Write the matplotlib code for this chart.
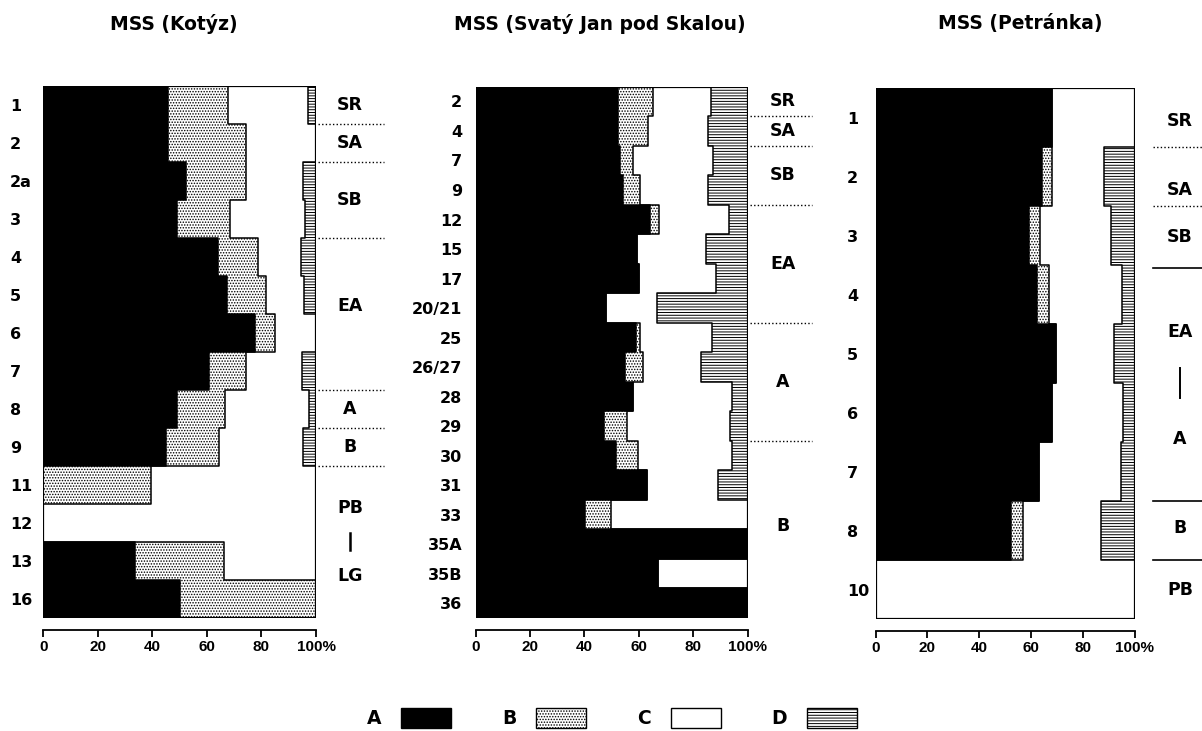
#!/usr/bin/env python3
"""Stacked percentage profiles for three MSS sections (A/B/C/D)."""

import matplotlib

matplotlib.use("Agg")
import matplotlib.pyplot as plt
import numpy as np
from matplotlib.patches import Patch, Rectangle

plt.rcParams["font.family"] = ["DejaVu Sans"]
plt.rcParams["font.weight"] = "bold"
plt.rcParams["hatch.linewidth"] = 0.7

# --- MSS (Kotýz) ---
KOTYZ_ROWS = ["1", "2", "2a", "3", "4", "5", "6", "7", "8", "9", "11", "12", "13", "16"]
KOTYZ_A = [45.6, 45.6, 52.2, 48.9, 64.1, 67.2, 77.6, 60.8, 48.9, 45.0, 0, 0, 33.6, 50.2]
KOTYZ_B = [22.2, 28.9, 22.3, 19.5, 14.7, 14.6, 7.5, 13.4, 17.7, 19.5, 39.5, 0, 32.7, 49.8]
KOTYZ_C = [29.2, 25.5, 20.7, 27.5, 15.6, 13.7, 14.9, 20.8, 30.8, 30.7, 60.5, 100, 33.7, 0]
KOTYZ_D = [3.0, 0, 4.8, 4.1, 5.6, 4.5, 0, 5.0, 2.6, 4.8, 0, 0, 0, 0]
KOTYZ_ZONES = [("SR", 0.5), ("SA", 1.5), ("SB", 3.0), ("EA", 5.8), ("A", 8.5),
               ("B", 9.5), ("PB", 11.1), ("LG", 12.9)]
KOTYZ_DIVIDERS = [1, 2, 4, 8, 9, 10]

# --- MSS (Svatý Jan pod Skalou) ---
JAN_ROWS = ["2", "4", "7", "9", "12", "15", "17", "20/21", "25", "26/27", "28",
            "29", "30", "31", "33", "35A", "35B", "36"]
JAN_A = [52.5, 52.5, 53.1, 54.1, 64.2, 59.5, 60.2, 47.9, 59.0, 55.0, 57.8,
         47.2, 51.7, 63.2, 40.3, 100, 67.0, 100]
JAN_B = [12.9, 10.8, 4.9, 6.4, 3.4, 0, 0, 0, 1.5, 6.5, 0,
         8.6, 8.2, 0, 9.5, 0, 0, 0]
JAN_C = [21.2, 22.3, 29.2, 25.1, 25.7, 25.2, 28.1, 18.7, 26.3, 21.4, 36.6,
         37.8, 34.3, 25.8, 50.2, 0, 33.0, 0]
JAN_D = [13.4, 14.4, 12.8, 14.4, 6.7, 15.3, 11.7, 33.4, 13.2, 17.1, 5.6,
         6.4, 5.8, 11.0, 0, 0, 0, 0]
JAN_ZONES = [("SR", 0.5), ("SA", 1.5), ("SB", 3.0), ("EA", 6.0), ("A", 10.0),
             ("B", 14.9)]
JAN_DIVIDERS = [1, 2, 4, 8, 12]

# --- MSS (Petránka) ---
PET_ROWS = ["1", "2", "3", "4", "5", "6", "7", "8", "10"]
PET_A = [68.3, 64.2, 59.3, 62.5, 69.8, 68.1, 63.3, 52.4, 0]
PET_B = [0, 3.9, 4.3, 4.3, 0, 0, 0, 4.4, 0]
PET_C = [31.7, 20.0, 27.3, 28.4, 22.4, 27.4, 31.5, 30.2, 100]
PET_D = [0, 11.9, 9.1, 4.8, 7.8, 4.5, 5.2, 13.0, 0]
PET_ZONES = [("SR", 0.55), ("SA", 1.72), ("SB", 2.52), ("EA", 4.13), ("A", 5.94),
             ("B", 7.46), ("PB", 8.5)]
PET_DIVIDERS = [1, 2]
PET_SOLID = [3.05, 7, 8]

STYLES = [("black", None), ("white", "......"), ("white", None), ("white", "------")]
DOTTED = (0, (1, 1.6))


def draw_panel(ax, rows, parts):
    n = len(rows)
    y = np.arange(n)
    left = np.zeros(n)
    for vals, (face, hatch) in zip(parts, STYLES):
        vals = np.asarray(vals, dtype=float)
        ax.barh(y + 0.5, vals, left=left, height=1.0, color=face,
                edgecolor="black", linewidth=0, hatch=hatch)
        left = left + vals
    # stepped outlines between categories
    for bound in np.cumsum(parts[:3], axis=0):
        xs = np.repeat(bound, 2)
        ys = np.column_stack([y, y + 1]).ravel()
        ax.plot(xs, ys, color="black", lw=1.1)
    ax.add_patch(Rectangle((0, 0), 100, n, fill=False, lw=1.6,
                           edgecolor="black", zorder=5))
    ax.set_xlim(0, 100)
    ax.set_ylim(n, 0)
    for side in ("top", "left", "right"):
        ax.spines[side].set_visible(False)
    ax.spines["bottom"].set_position(("outward", 8.6))
    ax.spines["bottom"].set_bounds(0, 100)
    ax.spines["bottom"].set_linewidth(1.3)
    ax.set_xticks([0, 20, 40, 60, 80, 100],
                  ["0", "20", "40", "60", "80", "100%"])
    ax.tick_params(axis="x", direction="out", length=5, width=1.3, pad=2)
    for lbl in ax.get_xticklabels():
        lbl.set_fontfamily("Liberation Sans")
        lbl.set_fontsize(11)
    ax.set_yticks(y + 0.5, rows)
    ax.tick_params(axis="y", length=0, labelsize=11.5)


def draw_zones(ax, zones, dividers, x_text, x0, x1, solid=()):
    for label, ypos in zones:
        ax.text(x_text, ypos, label, ha="center", va="center", fontsize=12.5,
                fontweight="bold", clip_on=False)
    for ypos in dividers:
        ax.plot([x0, x1], [ypos, ypos], color="black", lw=1.0, ls=DOTTED,
                clip_on=False)
    for ypos in solid:
        ax.plot([x0, x1], [ypos, ypos], color="black", lw=1.2, clip_on=False)


fig = plt.figure(figsize=(12.02, 7.31), dpi=100)
W, H = 1202, 731


def add_axes(x0, x1, y0, y1):
    return fig.add_axes([x0 / W, 1 - y1 / H, (x1 - x0) / W, (y1 - y0) / H])


ax1 = add_axes(43.3, 316, 86, 618)
ax2 = add_axes(475.5, 747.5, 86.7, 618)
ax3 = add_axes(875.5, 1134.5, 88.3, 619.3)

draw_panel(ax1, KOTYZ_ROWS, [KOTYZ_A, KOTYZ_B, KOTYZ_C, KOTYZ_D])
draw_panel(ax2, JAN_ROWS, [JAN_A, JAN_B, JAN_C, JAN_D])
draw_panel(ax3, PET_ROWS, [PET_A, PET_B, PET_C, PET_D])

# row labels: left aligned in panels 1 and 3, right aligned in panel 2
for ax, pad in ((ax1, 24), (ax3, 20.5)):
    ax.tick_params(axis="y", pad=pad)
    for lbl in ax.get_yticklabels():
        lbl.set_ha("left")
ax2.tick_params(axis="y", pad=9.5)

draw_zones(ax1, KOTYZ_ZONES, KOTYZ_DIVIDERS, 112.5, 100.6, 125)
ax1.plot([112.5, 112.5], [11.75, 12.2], color="black", lw=1.8, clip_on=False)
draw_zones(ax2, JAN_ZONES, JAN_DIVIDERS, 113, 101, 123.7)
draw_zones(ax3, PET_ZONES, PET_DIVIDERS, 117.6, 107.1, 126, solid=PET_SOLID)
ax3.plot([117.6, 117.6], [4.74, 5.25], color="black", lw=1.4, clip_on=False)

for text, xc in (("MSS (Kotýz)", 173.5), ("MSS (Svatý Jan pod Skalou)", 600),
                 ("MSS (Petránka)", 1020)):
    fig.text(xc / W, 1 - 24 / H, text, ha="center", va="center",
             fontsize=13.5, fontweight="bold")

handles = [Patch(facecolor=face, edgecolor="black", hatch=hatch, lw=1.0)
           for face, hatch in STYLES]
fig.legend(handles, ["A", "B", "C", "D"], ncol=4, markerfirst=False,
           frameon=False, loc="center", bbox_to_anchor=(612 / W, 1 - 718 / H),
           fontsize=13.5, handlelength=2.67, handleheight=1.3,
           handletextpad=1.07, columnspacing=2.7)

fig.savefig("out.png", dpi=100, facecolor="white")
